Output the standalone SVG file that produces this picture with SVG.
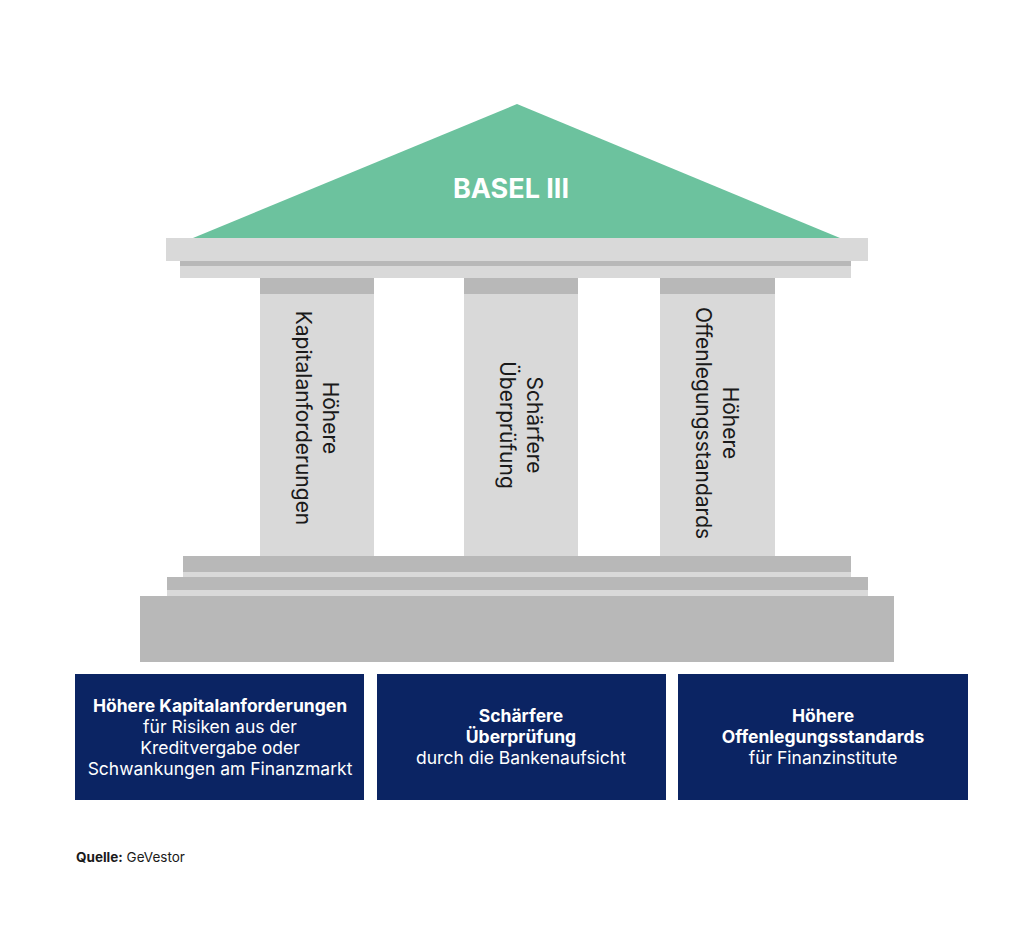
<svg xmlns="http://www.w3.org/2000/svg" width="1024" height="931" viewBox="0 0 1024 931">
<style>
.l{fill:#d9d9d9}.d{fill:#b8b8b8}.box{fill:#0b2463}
.ct{font-family:Inter,"Liberation Sans",sans-serif;font-size:21px;fill:#1a1a1a;text-anchor:middle}
.bt{font-family:Inter,"Liberation Sans",sans-serif;font-size:17.5px;fill:#fff;text-anchor:middle}
.b{font-weight:bold}
</style>
<rect width="1024" height="931" fill="#fff"/>
<g id="roof"><polygon points="517,104 840,238 193,238" fill="#6cc29e"/>
<text x="511" y="198" font-family="Inter,'Liberation Sans',sans-serif" font-size="27" font-weight="bold" fill="#fff" text-anchor="middle">BASEL III</text></g>
<g id="entablature"><rect class="l" x="166" y="238" width="702" height="23"/><rect class="d" x="180" y="261" width="671" height="5"/><rect class="l" x="180" y="266" width="671" height="12"/></g>
<g id="col1"><rect class="d" x="260" y="278" width="114" height="16"/><rect class="l" x="260" y="294" width="114" height="262"/>
<text class="ct" transform="translate(317,418) rotate(90)"><tspan x="0" y="-6">Höhere</tspan><tspan x="0" y="21">Kapitalanforderungen</tspan></text></g>
<g id="col2"><rect class="d" x="464" y="278" width="114" height="16"/><rect class="l" x="464" y="294" width="114" height="262"/>
<text class="ct" transform="translate(521,425) rotate(90)"><tspan x="0" y="-6">Schärfere</tspan><tspan x="0" y="21">Überprüfung</tspan></text></g>
<g id="col3"><rect class="d" x="660" y="278" width="115" height="16"/><rect class="l" x="660" y="294" width="115" height="262"/>
<text class="ct" transform="translate(717,423) rotate(90)"><tspan x="0" y="-6">Höhere</tspan><tspan x="0" y="21">Offenlegungsstandards</tspan></text></g>
<g id="base"><rect class="d" x="183" y="556" width="668" height="16"/><rect class="l" x="183" y="572" width="668" height="5"/>
<rect class="d" x="167" y="577" width="701" height="13"/><rect class="l" x="167" y="590" width="701" height="6"/>
<rect class="d" x="140" y="596" width="754" height="66"/></g>
<g id="box1"><rect class="box" x="75" y="674" width="289" height="126"/>
<text class="bt"><tspan x="220" y="712" class="b">Höhere Kapitalanforderungen</tspan><tspan x="220" y="733">für Risiken aus der</tspan><tspan x="220" y="754">Kreditvergabe oder</tspan><tspan x="220" y="775">Schwankungen am Finanzmarkt</tspan></text></g>
<g id="box2"><rect class="box" x="377" y="674" width="289" height="126"/>
<text class="bt"><tspan x="521" y="722" class="b">Schärfere</tspan><tspan x="521" y="743" class="b">Überprüfung</tspan><tspan x="521" y="764">durch die Bankenaufsicht</tspan></text></g>
<g id="box3"><rect class="box" x="678" y="674" width="290" height="126"/>
<text class="bt"><tspan x="823" y="722" class="b">Höhere</tspan><tspan x="823" y="743" class="b">Offenlegungsstandards</tspan><tspan x="823" y="764">für Finanzinstitute</tspan></text></g>
<g id="connectors"/>
<text x="76" y="862" font-family="Inter,'Liberation Sans',sans-serif" font-size="13.5" fill="#1a1a1a"><tspan font-weight="bold">Quelle:</tspan> GeVestor</text>
</svg>
